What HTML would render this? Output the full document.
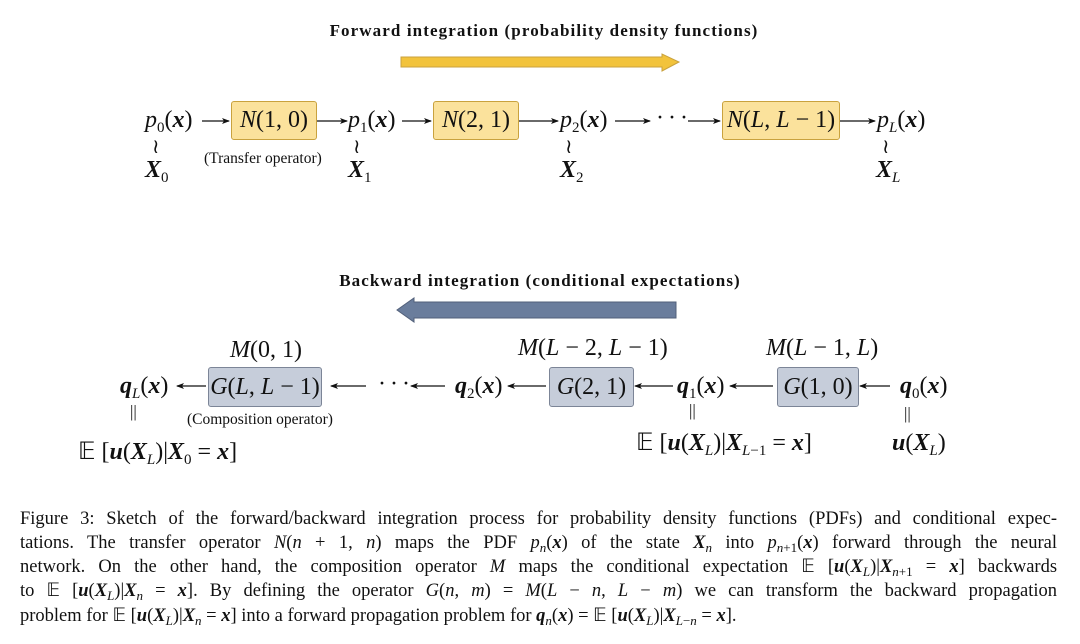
<!DOCTYPE html>
<html><head><meta charset="utf-8"><style>
body{margin:0;width:1080px;height:644px;background:#fff;position:relative;overflow:hidden;font-family:"Liberation Serif",serif;color:#111}
.a{position:absolute;white-space:nowrap}
.t{font-size:24px;line-height:24px}
i{font-style:italic}
b.v{font-style:italic;font-weight:bold}
sub{font-size:15px;vertical-align:-5px;line-height:0}
.by{position:absolute;background:#fbe29c;border:1px solid #c9a23e;border-radius:3px;box-sizing:border-box;font-size:24px;text-align:center}
.bb{position:absolute;background:#c6cdda;border:1px solid #7c8597;border-radius:3px;box-sizing:border-box;font-size:24px;text-align:center}
.cap{position:absolute;left:20px;width:1037px;font-size:18.5px;text-align:justify;text-align-last:justify;white-space:nowrap;line-height:20px}
.cap.l{text-align-last:left}
.cap sub{font-size:13px;vertical-align:-4px}
.ttl{position:absolute;width:1080px;text-align:center;font-size:17px;font-weight:bold;letter-spacing:1.1px}
.d{position:absolute;font-size:24px;line-height:24px;letter-spacing:-1px}
</style></head><body>
<div class="ttl" style="left:4px;top:21px">Forward integration (probability density functions)</div>
<svg class="a" style="left:0;top:0" width="1080" height="500">
<defs><marker id="ah" markerWidth="8" markerHeight="8" refX="7" refY="4" orient="auto" markerUnits="userSpaceOnUse"><path d="M0,1 L8,4 L0,7 L2,4 Z" fill="#111"/></marker></defs>
<polygon points="401,57 662,57 662,54 679,62 662,71 662,67 401,67" fill="#f2c33c" stroke="#c9a23e" stroke-width="1"/>
<polygon points="676,302 414,302 414,298 397,310 414,322 414,318 676,318" fill="#6a7d9c" stroke="#52607a" stroke-width="1"/>
<g stroke="#111" stroke-width="1.3" marker-end="url(#ah)">
<line x1="202" y1="121" x2="229" y2="121"/>
<line x1="316" y1="121" x2="347" y2="121"/>
<line x1="402" y1="121" x2="431" y2="121"/>
<line x1="519" y1="121" x2="558" y2="121"/>
<line x1="615" y1="121" x2="650" y2="121"/>
<line x1="688" y1="121" x2="720" y2="121"/>
<line x1="840" y1="121" x2="875" y2="121"/>
<line x1="206" y1="386" x2="177" y2="386"/>
<line x1="366" y1="386" x2="331" y2="386"/>
<line x1="445" y1="386" x2="411" y2="386"/>
<line x1="546" y1="386" x2="508" y2="386"/>
<line x1="673" y1="386" x2="635" y2="386"/>
<line x1="773" y1="386" x2="730" y2="386"/>
<line x1="890" y1="386" x2="860" y2="386"/>
</g>
</svg>
<div class="by" style="left:231px;top:101px;width:86px;height:39px;line-height:37px"><i>N</i>(1, 0)</div>
<div class="by" style="left:433px;top:101px;width:86px;height:39px;line-height:37px"><i>N</i>(2, 1)</div>
<div class="by" style="left:722px;top:101px;width:118px;height:39px;line-height:37px"><i>N</i>(<i>L</i>, <i>L</i> − 1)</div>
<div class="a t" style="left:145px;top:108px"><i>p</i><sub>0</sub>(<b class="v">x</b>)</div>
<div class="a t" style="left:348px;top:108px"><i>p</i><sub>1</sub>(<b class="v">x</b>)</div>
<div class="a t" style="left:560px;top:108px"><i>p</i><sub>2</sub>(<b class="v">x</b>)</div>
<div class="d" style="left:656px;top:106px">·&nbsp;·&nbsp;·</div>
<div class="a t" style="left:877px;top:108px"><i>p<sub>L</sub></i>(<b class="v">x</b>)</div>
<div class="a" style="left:152px;top:134px;font-size:20px">≀</div>
<div class="a" style="left:353px;top:134px;font-size:20px">≀</div>
<div class="a" style="left:565px;top:134px;font-size:20px">≀</div>
<div class="a" style="left:882px;top:134px;font-size:20px">≀</div>
<div class="a t" style="left:145px;top:158px"><b class="v">X</b><sub>0</sub></div>
<div class="a t" style="left:348px;top:158px"><b class="v">X</b><sub>1</sub></div>
<div class="a t" style="left:560px;top:158px"><b class="v">X</b><sub>2</sub></div>
<div class="a t" style="left:876px;top:158px"><b class="v">X</b><sub><i>L</i></sub></div>
<div class="a" style="left:204px;top:150px;font-size:15.5px">(Transfer operator)</div>

<div class="ttl" style="left:0;top:271px">Backward integration (conditional expectations)</div>
<div class="a t" style="left:230px;top:338px"><i>M</i>(0, 1)</div>
<div class="a t" style="left:518px;top:336px"><i>M</i>(<i>L</i> − 2, <i>L</i> − 1)</div>
<div class="a t" style="left:766px;top:336px"><i>M</i>(<i>L</i> − 1, <i>L</i>)</div>
<div class="bb" style="left:208px;top:367px;width:114px;height:40px;line-height:38px"><i>G</i>(<i>L</i>, <i>L</i> − 1)</div>
<div class="bb" style="left:549px;top:367px;width:85px;height:40px;line-height:38px"><i>G</i>(2, 1)</div>
<div class="bb" style="left:777px;top:367px;width:82px;height:40px;line-height:38px"><i>G</i>(1, 0)</div>
<div class="a t" style="left:120px;top:374px"><b class="v">q</b><sub><i>L</i></sub>(<b class="v">x</b>)</div>
<div class="d" style="left:378px;top:372px">·&nbsp;·&nbsp;·</div>
<div class="a t" style="left:455px;top:374px"><b class="v">q</b><sub>2</sub>(<b class="v">x</b>)</div>
<div class="a t" style="left:677px;top:374px"><b class="v">q</b><sub>1</sub>(<b class="v">x</b>)</div>
<div class="a t" style="left:900px;top:374px"><b class="v">q</b><sub>0</sub>(<b class="v">x</b>)</div>
<div class="a" style="left:130px;top:402px;font-size:17px">||</div>
<div class="a" style="left:689px;top:401px;font-size:17px">||</div>
<div class="a" style="left:904px;top:404px;font-size:17px">||</div>
<div class="a" style="left:187px;top:411px;font-size:15.5px">(Composition operator)</div>
<div class="a t" style="left:78px;top:440px">𝔼 [<b class="v">u</b>(<b class="v">X</b><sub><i>L</i></sub>)|<b class="v">X</b><sub>0</sub> = <b class="v">x</b>]</div>
<div class="a t" style="left:636px;top:431px">𝔼 [<b class="v">u</b>(<b class="v">X</b><sub><i>L</i></sub>)|<b class="v">X</b><sub><i>L</i>−1</sub> = <b class="v">x</b>]</div>
<div class="a t" style="left:892px;top:431px"><b class="v">u</b>(<b class="v">X</b><sub><i>L</i></sub>)</div>

<div class="cap" style="top:509px">Figure 3: Sketch of the forward/backward integration process for probability density functions (PDFs) and conditional expec-</div>
<div class="cap" style="top:533px">tations. The transfer operator <i>N</i>(<i>n</i> + 1, <i>n</i>) maps the PDF <i>p<sub>n</sub></i>(<b class="v">x</b>) of the state <b class="v">X</b><sub><i>n</i></sub> into <i>p</i><sub><i>n</i>+1</sub>(<b class="v">x</b>) forward through the neural</div>
<div class="cap" style="top:557px">network. On the other hand, the composition operator <i>M</i> maps the conditional expectation 𝔼 [<b class="v">u</b>(<b class="v">X</b><sub><i>L</i></sub>)|<b class="v">X</b><sub><i>n</i>+1</sub> = <b class="v">x</b>] backwards</div>
<div class="cap" style="top:581px">to 𝔼 [<b class="v">u</b>(<b class="v">X</b><sub><i>L</i></sub>)|<b class="v">X</b><sub><i>n</i></sub> = <b class="v">x</b>]. By defining the operator <i>G</i>(<i>n</i>, <i>m</i>) = <i>M</i>(<i>L</i> − <i>n</i>, <i>L</i> − <i>m</i>) we can transform the backward propagation</div>
<div class="cap l" style="top:606px">problem for 𝔼 [<b class="v">u</b>(<b class="v">X</b><sub><i>L</i></sub>)|<b class="v">X</b><sub><i>n</i></sub> = <b class="v">x</b>] into a forward propagation problem for <b class="v">q</b><sub><i>n</i></sub>(<b class="v">x</b>) = 𝔼 [<b class="v">u</b>(<b class="v">X</b><sub><i>L</i></sub>)|<b class="v">X</b><sub><i>L</i>−<i>n</i></sub> = <b class="v">x</b>].</div>
</body></html>
